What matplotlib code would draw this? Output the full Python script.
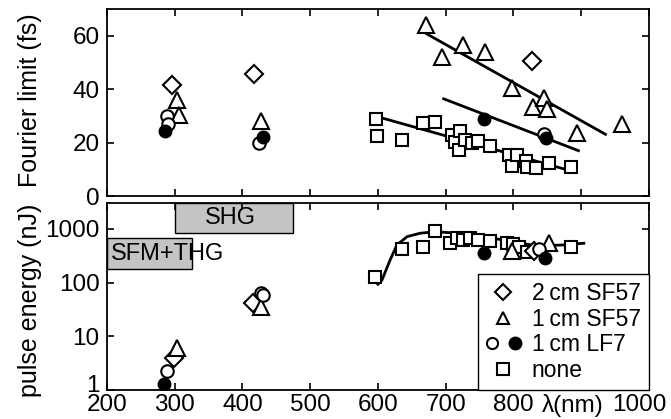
import matplotlib
matplotlib.use("Agg")
import matplotlib.pyplot as plt
import matplotlib.transforms as mtransforms
from matplotlib.lines import Line2D
from matplotlib.legend_handler import HandlerTuple
from matplotlib.patches import Rectangle
from matplotlib.ticker import FixedLocator, FixedFormatter, NullLocator

plt.rcParams["font.family"] = ["Liberation Sans", "DejaVu Sans"]
plt.rcParams["font.size"] = 17

# --- Fourier limit (fs) vs wavelength (nm)
fl_sf57_2cm_x = [296, 417, 827]
fl_sf57_2cm_y = [41.6, 45.7, 50.6]
fl_sf57_1cm_x = [303, 306, 428, 671, 695, 726, 758, 798, 829, 845, 850, 894, 960]
fl_sf57_1cm_y = [36.0, 30.4, 28.2, 64.1, 52.0, 56.4, 54.1, 40.4, 33.3, 36.6, 32.6, 23.7, 26.9]
fl_lf7_open_x = [288, 290, 424, 845]
fl_lf7_open_y = [30.0, 27.0, 19.7, 23.2]
fl_lf7_fill_x = [285, 431, 756, 848]
fl_lf7_fill_y = [24.5, 22.2, 28.8, 21.6]
fl_none_x = [597, 598, 635, 667, 684, 710, 714, 719, 721, 729, 739, 747, 765,
             794, 798, 806, 819, 820, 834, 852, 885]
fl_none_y = [28.9, 22.6, 20.9, 27.5, 27.7, 22.7, 20.1, 17.2, 24.5, 21.0, 20.0, 20.6, 18.9,
             15.4, 11.4, 15.4, 13.1, 11.0, 10.6, 12.2, 11.0]

# linear trends through each glass group
fit_sf57_x = [672, 936]
fit_sf57_y = [60.7, 23.1]
fit_lf7_x = [697, 896]
fit_lf7_y = [36.4, 17.0]
fit_none_x = [602, 884]
fit_none_y = [29.5, 9.5]

# --- pulse energy (nJ) vs wavelength (nm)
pe_sf57_2cm_x = [299, 416, 830]
pe_sf57_2cm_y = [3.9, 41, 393]
pe_sf57_1cm_x = [304, 428, 798, 852]
pe_sf57_1cm_y = [6.2, 35.5, 393, 540]
pe_lf7_open_x = [288, 427, 431, 838]
pe_lf7_open_y = [2.26, 63, 58.7, 430]
pe_lf7_fill_x = [284, 756, 847]
pe_lf7_fill_y = [1.28, 361, 283]
pe_none_x = [596, 635, 666, 684, 707, 716, 726, 736, 748, 765, 790, 800, 809, 820, 885]
pe_none_y = [129, 417, 454, 914, 553, 668, 621, 668, 621, 603, 553, 525, 454, 376, 467]

# smooth guide through the OPA output energies
guide_x = [600, 606, 618, 628, 643, 662, 685, 717, 761, 800, 835, 874, 904]
guide_y = [93, 112, 264, 501, 716, 828, 887, 828, 697, 578, 479, 502, 540]

# wavelength bands of the frequency-conversion stages
shg_band = (300, 475, 830, 3000)
sfm_band = (200, 326, 180, 690)

x_ticks = [200, 300, 400, 500, 600, 700, 800, 900, 1000]
x_ticklabels = ["200", "300", "400", "500", "600", "700", "800", "\u03bb(nm)", "1000"]

mk = dict(linestyle="none", markerfacecolor="white", markeredgecolor="black",
          markeredgewidth=1.5)

fig = plt.figure(figsize=(6.71, 4.19), dpi=100)
ax1 = fig.add_axes([0.1595, 0.532, 0.8075, 0.4465])
ax2 = fig.add_axes([0.1595, 0.069, 0.8075, 0.446])

for ax in (ax1, ax2):
    ax.tick_params(direction="in", top=True, right=True, length=5, width=1.2,
                   labelsize=17.5)
    ax.tick_params(axis="y", pad=5.5)
    ax.tick_params(axis="x", pad=3)
    for s in ax.spines.values():
        s.set_linewidth(1.3)
    ax.set_xlim(200, 1000)
    ax.xaxis.set_major_locator(FixedLocator(x_ticks))

# top panel
ax1.plot(fit_sf57_x, fit_sf57_y, color="black", lw=2)
ax1.plot(fit_lf7_x, fit_lf7_y, color="black", lw=2)
ax1.plot(fit_none_x, fit_none_y, color="black", lw=2)
ax1.plot(fl_none_x, fl_none_y, marker="s", markersize=9, **mk)
ax1.plot(fl_sf57_2cm_x, fl_sf57_2cm_y, marker="D", markersize=9, **mk)
ax1.plot(fl_sf57_1cm_x, fl_sf57_1cm_y, marker="^", markersize=11, **mk)
ax1.plot(fl_lf7_open_x, fl_lf7_open_y, marker="o", markersize=9, **mk)
ax1.plot(fl_lf7_fill_x, fl_lf7_fill_y, marker="o", markersize=9, linestyle="none",
         color="black")
ax1.set_ylim(0, 70)
ax1.set_yticks([0, 20, 40, 60])
ax1.set_xticklabels([])
ax1.set_ylabel("Fourier limit (fs)", fontsize=18)
ax1.yaxis.set_label_coords(-0.12, 0.51)

# bottom panel
ax2.set_yscale("log")
ax2.set_ylim(1, 3000)
for x0, x1, y0, y1 in (shg_band, sfm_band):
    ax2.add_patch(Rectangle((x0, y0), x1 - x0, y1 - y0, facecolor="#c4c4c4",
                            edgecolor="black", lw=1.0, zorder=1))
ax2.text(382, 1574, "SHG", ha="center", va="center", zorder=2)
ax2.text(206, 337, "SFM+THG", ha="left", va="center", zorder=2)

ax2.plot(guide_x, guide_y, color="black", lw=2, zorder=3)
ax2.plot(pe_none_x, pe_none_y, marker="s", markersize=9, zorder=4, **mk)
ax2.plot(pe_sf57_2cm_x, pe_sf57_2cm_y, marker="D", markersize=9, zorder=4, **mk)
ax2.plot(pe_sf57_1cm_x, pe_sf57_1cm_y, marker="^", markersize=11, zorder=4, **mk)
ax2.plot(pe_lf7_open_x, pe_lf7_open_y, marker="o", markersize=9, zorder=4, **mk)
ax2.plot(pe_lf7_fill_x, pe_lf7_fill_y, marker="o", markersize=9, linestyle="none",
         color="black", zorder=4)
ax2.yaxis.set_major_locator(FixedLocator([1, 10, 100, 1000]))
ax2.yaxis.set_major_formatter(FixedFormatter(["1", "10", "100", "1000"]))
ax2.yaxis.set_minor_locator(NullLocator())
ax2.xaxis.set_major_formatter(FixedFormatter(x_ticklabels))
ax2.set_ylabel("pulse energy (nJ)", fontsize=18)
ax2.yaxis.set_label_coords(-0.12, 0.48)

# nudge crowded tick labels: lift "1", pull the last two x labels inwards
fig.canvas.draw()


def nudge(lbl, dx_px, dy_px):
    off = mtransforms.ScaledTranslation(dx_px / fig.dpi, dy_px / fig.dpi,
                                        fig.dpi_scale_trans)
    lbl.set_transform(lbl.get_transform() + off)


nudge(ax2.get_yticklabels()[0], 0, 7)
xl = ax2.get_xticklabels()
nudge(xl[-2], -8, 0)
nudge(xl[-1], -10, 0)

lk = dict(linestyle="none", markerfacecolor="white", markeredgecolor="black",
          markeredgewidth=1.5)
h_d = Line2D([], [], marker="D", markersize=8, **lk)
h_t = Line2D([], [], marker="^", markersize=9, **lk)
h_o = Line2D([], [], marker="o", markersize=8, **lk)
h_f = Line2D([], [], marker="o", markersize=9, linestyle="none", color="black")
h_s = Line2D([], [], marker="s", markersize=8, **lk)
leg = ax2.legend([h_d, h_t, (h_o, h_f), h_s],
                 ["2\u2009cm SF57", "1\u2009cm SF57", "1\u2009cm LF7", "none"],
                 handler_map={tuple: HandlerTuple(ndivide=None, pad=0.5)},
                 loc="lower right", borderaxespad=0, fancybox=False,
                 edgecolor="black", framealpha=1, handlelength=1.5,
                 handletextpad=0.5, labelspacing=0.12, borderpad=0.35,
                 fontsize=16.5)
leg.get_frame().set_linewidth(1.0)
leg.set_zorder(5)

fig.savefig("out.png", dpi=100)
